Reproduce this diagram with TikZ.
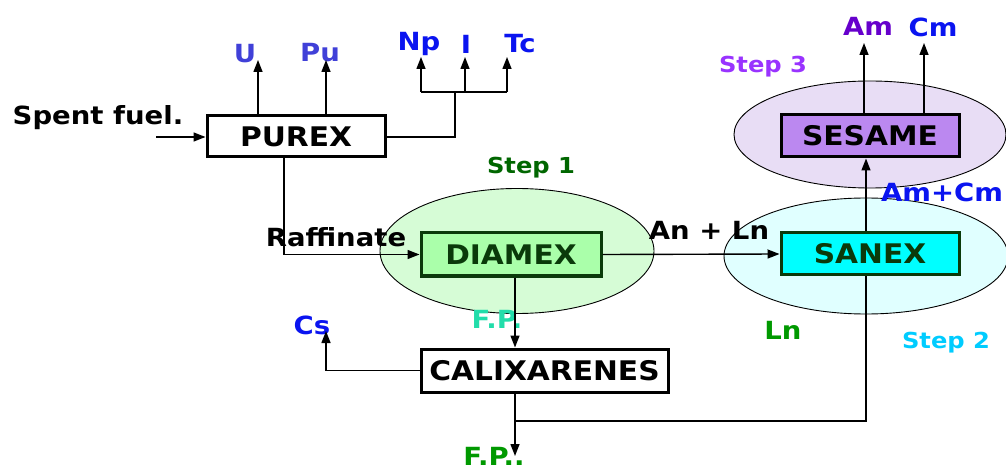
\documentclass[tikz,border=0pt]{standalone}
\usepackage{fontspec}
\setmainfont[FakeStretch=1.1]{DejaVu Sans}
\usetikzlibrary{arrows.meta,shapes.geometric}
\definecolor{ublue}{HTML}{4040D8}
\definecolor{nblue}{HTML}{0A14F0}
\definecolor{stepone}{HTML}{006600}
\definecolor{lngreen}{HTML}{009900}
\definecolor{fpteal}{HTML}{22DDAA}
\definecolor{steptwo}{HTML}{00CCFF}
\definecolor{stepthree}{HTML}{9933FF}
\definecolor{ampurple}{HTML}{6600CC}
\definecolor{gfill}{HTML}{D6FCD6}
\definecolor{gbox}{HTML}{AAFFAA}
\definecolor{gline}{HTML}{0A3A0A}
\definecolor{cfill}{HTML}{E0FFFF}
\definecolor{cbox}{HTML}{00FFFF}
\definecolor{pfill}{HTML}{E8DDF5}
\definecolor{pbox}{HTML}{BB88F0}
\tikzset{
  arr/.style={-{Triangle[length=12pt,width=9pt]}, line width=1.4pt},
  conn/.style={line width=1.4pt},
  procbox/.style={draw, line width=3pt, rectangle, inner sep=0pt, font=\bfseries\fontsize{27}{29}\selectfont},
  zone/.style={draw, line width=0.9pt, ellipse, inner sep=0pt},
  lbl/.style={font=\bfseries\fontsize{25}{27}\selectfont, inner sep=0pt},
  steplbl/.style={font=\bfseries\fontsize{22}{24}\selectfont, inner sep=0pt}
}
\begin{document}
\begin{tikzpicture}[x=1pt,y=-1pt]
\useasboundingbox (0,0) rectangle (1006,470);
% zones
\node[zone, fill=gfill, minimum width=274pt, minimum height=125pt] (z1) at (517,251) {};
\node[zone, fill=cfill, minimum width=284pt, minimum height=116pt] (z2) at (866,256) {};
\node[zone, fill=pfill, minimum width=272pt, minimum height=107pt] (z3) at (870,134.5) {};
% boxes
\node[procbox, fill=white, minimum width=178pt, minimum height=41pt] (purex) at (296,136.5) {PUREX};
\node[procbox, fill=gbox, draw=gline, text=gline, minimum width=180pt, minimum height=43pt] (diamex) at (511,254.5) {DIAMEX};
\node[procbox, fill=cbox, draw=gline, text=gline, minimum width=178pt, minimum height=42pt] (sanex) at (870,254) {SANEX};
\node[procbox, fill=pbox, minimum width=178pt, minimum height=42pt] (sesame) at (870,136) {SESAME};
\node[procbox, fill=white, minimum width=247pt, minimum height=43pt] (calix) at (544.5,370.5) {CALIXARENES};
% labels
\node[lbl] (spent) at (98,118) {Spent fuel.};
\node[lbl, text=ublue] (U) at (245,54) {U};
\node[lbl, text=ublue] (Pu) at (320,53) {Pu};
\node[lbl, text=nblue] (Np) at (419,44) {Np};
\node[lbl, text=nblue] (I) at (466,44) {I};
\node[lbl, text=nblue] (Tc) at (520,44) {Tc};
\node[steplbl, text=stepone] (s1) at (531,168) {Step 1};
\node[lbl] (raff) at (336,237) {Raffinate};
\node[lbl] (anln) at (709,230) {An + Ln};
\node[lbl, text=fpteal] (fp1) at (497,319) {F.P.};
\node[lbl, text=nblue] (cs) at (312,325) {Cs};
\node[lbl, text=lngreen] (fp2) at (494,456) {F.P..};
\node[lbl, text=lngreen] (ln) at (783,330) {Ln};
\node[steplbl, text=steptwo] (s2) at (946,343) {Step 2};
\node[lbl, text=nblue] (amcm) at (942,192) {Am+Cm};
\node[steplbl, text=stepthree] (s3) at (763,67) {Step 3};
\node[lbl, text=ampurple] (am) at (868,26) {Am};
\node[lbl, text=nblue] (cm) at (933,27) {Cm};
% coordinates
\coordinate (sfin) at (156,137);
\coordinate (uT) at (258,60);
\coordinate (puT) at (326,60);
\coordinate (brk) at (455,92);
\coordinate (npT) at (421,57);
\coordinate (iT) at (465,57);
\coordinate (tcT) at (507,57);
\coordinate (rx) at (284,254);
\coordinate (fpx) at (515,0);
\coordinate (jx) at (866,0);
\coordinate (amT) at (864,43);
\coordinate (cmT) at (924,43);
\coordinate (csT) at (326,331);
\coordinate (join) at (515,421);
\coordinate (fpT) at (515,456);
% connectors
\draw[arr] (sfin) -- (purex.west |- sfin);
\draw[arr] (purex.north -| uT) -- (uT);
\draw[arr] (purex.north -| puT) -- (puT);
\draw[conn] (purex.east |- sfin) -| (brk);
\draw[conn] (npT |- brk) -- (tcT |- brk);
\draw[arr] (npT |- brk) -- (npT);
\draw[arr] (iT |- brk) -- (iT);
\draw[arr] (tcT |- brk) -- (tcT);
\draw[arr] (purex.south -| rx) |- (diamex.west);
\draw[arr] (diamex.east) -- (sanex.west);
\draw[arr] (sanex.north -| jx) -- (sesame.south -| jx);
\draw[arr] (sesame.north -| amT) -- (amT);
\draw[arr] (sesame.north -| cmT) -- (cmT);
\draw[arr] (diamex.south -| fpx) -- (calix.north -| fpx);
\draw[arr] (calix.west) -| (csT);
\draw[arr] (calix.south -| fpx) -- (fpT);
\draw[conn] (sanex.south -| jx) |- (join);
\end{tikzpicture}
\end{document}
